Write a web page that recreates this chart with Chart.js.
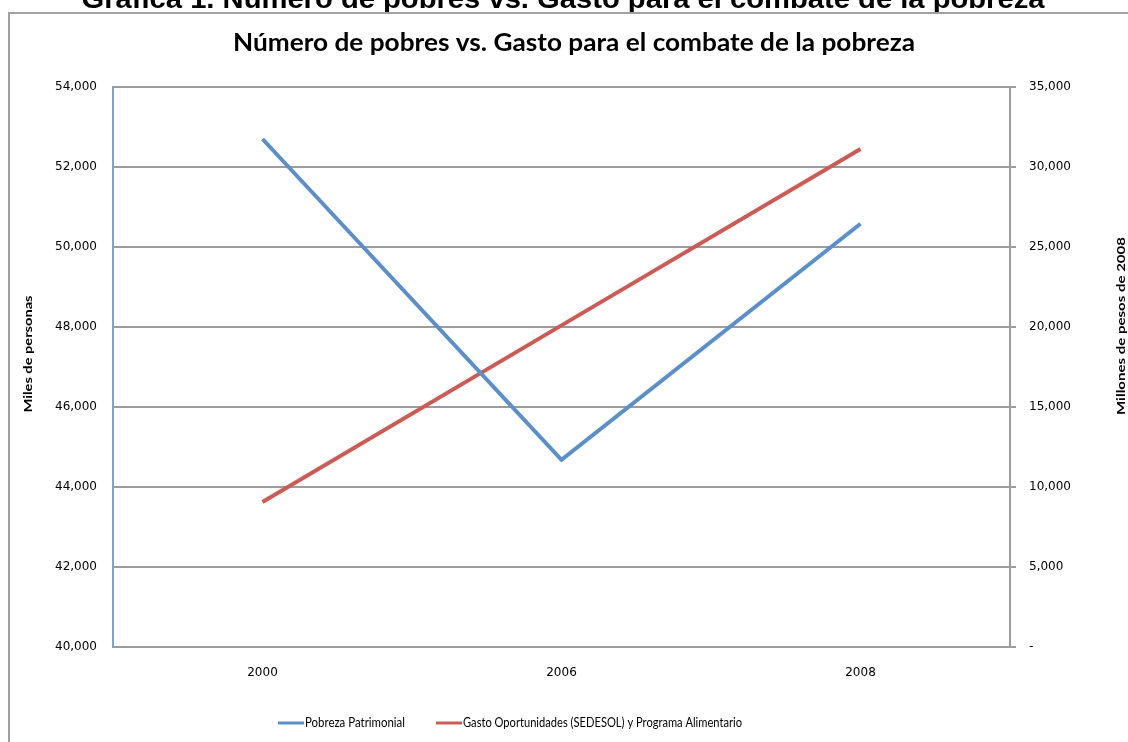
<!DOCTYPE html>
<html><head><meta charset="utf-8">
<script src="https://cdn.jsdelivr.net/npm/chart.js@4.4.1/dist/chart.umd.min.js"></script>
<style>html,body{margin:0;padding:0;background:#fff;}#wrap{width:1128px;height:742px;position:relative;}</style>
</head><body><div id="wrap"><canvas id="c" width="1128" height="742"></canvas></div>
<script>
const categories = ['2000', '2006', '2008'];
const pobrezaPatrimonial = [52700, 44680, 50580];
const gastoOportunidades = [9060, 20100, 31120];
const leftTicks = [40000, 42000, 44000, 46000, 48000, 50000, 52000, 54000];
const rightTicks = [0, 5000, 10000, 15000, 20000, 25000, 30000, 35000];
const superTitle = 'Gráfica 1. Número de pobres vs. Gasto para el combate de la pobreza';
const chartTitle = 'Número de pobres vs. Gasto para el combate de la pobreza';
const leftAxisTitle = 'Miles de personas';
const rightAxisTitle = 'Millones de pesos de 2008';
const seriesNames = ['Pobreza Patrimonial', 'Gasto Oportunidades (SEDESOL) y Programa Alimentario'];

const BLUE = '#5b8fcb', RED = '#cc5a55', GRID = '#9c9c9c';
const SANS = 'Lato, "Open Sans", "Liberation Sans", sans-serif';
const fmt = v => v.toLocaleString('en-US');

// draw text squeezed/stretched horizontally to a target width
function fitText(ctx, text, x, y, w, align) {
  const m = ctx.measureText(text).width;
  const k = w / m;
  ctx.save();
  ctx.translate(x, y);
  ctx.scale(k, 1);
  ctx.textAlign = align;
  ctx.fillText(text, 0, 0);
  ctx.restore();
}

const decor = {
  id: 'decor',
  beforeDraw(chart) {
    const ctx = chart.ctx;
    ctx.save();
    ctx.fillStyle = '#fff';
    ctx.fillRect(0, 0, chart.width, chart.height);
    ctx.fillStyle = '#000';
    ctx.font = 'bold 28px "Liberation Sans", Arial, sans-serif';
    ctx.textBaseline = 'alphabetic';
    fitText(ctx, superTitle, 563, 8, 963, 'center');
    ctx.strokeStyle = '#a0a0a0';
    ctx.lineWidth = 2;
    ctx.beginPath();
    ctx.moveTo(9, 750); ctx.lineTo(9, 13); ctx.lineTo(1140, 13);
    ctx.stroke();
    ctx.restore();
  },
  afterDraw(chart) {
    const ctx = chart.ctx;
    ctx.save();
    ctx.fillStyle = '#000';
    ctx.textBaseline = 'middle';
    ctx.font = 'bold 24px ' + SANS;
    fitText(ctx, chartTitle, 574, 43, 682, 'center');
    ctx.font = 'bold 12px ' + SANS;
    ctx.save(); ctx.translate(28, 354); ctx.rotate(-Math.PI / 2); fitText(ctx, leftAxisTitle, 0, 0, 117, 'center'); ctx.restore();
    ctx.save(); ctx.translate(1121, 326); ctx.rotate(-Math.PI / 2); fitText(ctx, rightAxisTitle, 0, 0, 178, 'center'); ctx.restore();
    // legend
    ctx.font = '13px ' + SANS;
    const items = [[278, 0, 100], [436, 1, 279]];
    items.forEach(([x, i, w]) => {
      const ds = chart.data.datasets[i];
      ctx.strokeStyle = ds.borderColor; ctx.lineWidth = 3;
      ctx.beginPath(); ctx.moveTo(x, 723); ctx.lineTo(x + 26, 723); ctx.stroke();
      ctx.fillStyle = '#000';
      fitText(ctx, ds.label, x + 27, 723, w, 'left');
    });
    ctx.restore();
  }
};

new Chart(document.getElementById('c'), {
  type: 'line',
  data: {
    labels: categories,
    datasets: [
      { label: seriesNames[0], data: pobrezaPatrimonial, borderColor: BLUE, backgroundColor: BLUE, borderWidth: 4, pointRadius: 0, yAxisID: 'y', tension: 0 },
      { label: seriesNames[1], data: gastoOportunidades, borderColor: RED, backgroundColor: RED, borderWidth: 4, pointRadius: 0, yAxisID: 'y2', tension: 0 }
    ]
  },
  plugins: [decor],
  options: {
    responsive: false, animation: false, devicePixelRatio: 1,
    layout: { padding: { top: 87, bottom: 0, left: 0, right: 0 } },
    plugins: { legend: { display: false }, title: { display: false }, tooltip: { enabled: false } },
    scales: {
      x: {
        offset: true,
        grid: { display: false, drawTicks: false },
        border: { display: true, color: GRID, width: 2 },
        ticks: { color: '#000', font: { family: '"DejaVu Sans", Verdana, sans-serif', size: 12 }, padding: 19, maxRotation: 0 },
        afterFit(s) { s.height = 95; }
      },
      y: {
        position: 'left', min: 40000, max: 54000,
        afterBuildTicks(s) { s.ticks = leftTicks.map(v => ({ value: v })); },
        grid: { color: GRID, lineWidth: 2, drawTicks: false },
        border: { display: true, color: '#76a3d8', width: 2 },
        ticks: { color: '#000', font: { family: '"DejaVu Sans", Verdana, sans-serif', size: 12 }, padding: 16, callback: v => fmt(v) },
        afterFit(s) { s.width = 113; }
      },
      y2: {
        position: 'right', min: 0, max: 35000,
        afterBuildTicks(s) { s.ticks = rightTicks.map(v => ({ value: v })); },
        grid: { drawOnChartArea: false, color: GRID, lineWidth: 2, drawTicks: true, tickLength: 6 },
        border: { display: true, color: GRID, width: 2 },
        ticks: { color: '#000', font: { family: '"DejaVu Sans", Verdana, sans-serif', size: 12 }, padding: 13, callback: v => v === 0 ? '-' : fmt(v) },
        afterFit(s) { s.width = 118; }
      }
    }
  }
});
</script></body></html>
